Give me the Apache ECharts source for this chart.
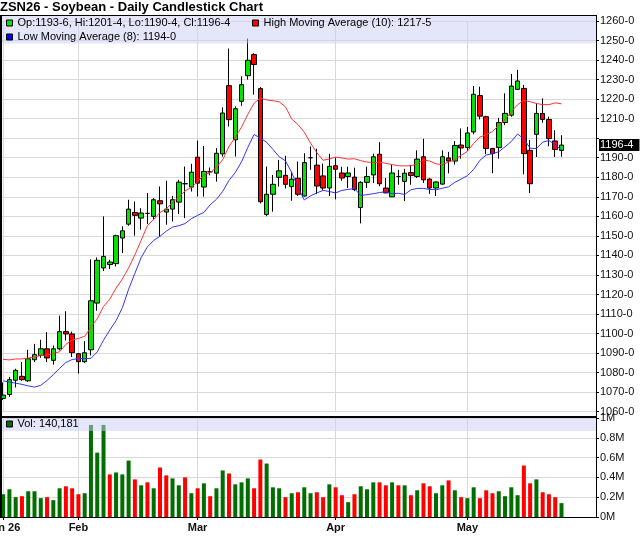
<!DOCTYPE html>
<html>
<head>
<meta charset="utf-8">
<title>ZSN26 - Soybean - Daily Candlestick Chart</title>
<script src="https://cdn.jsdelivr.net/npm/echarts@6.0.0/dist/echarts.min.js"></script>
<style>
  html, body { margin: 0; padding: 0; background: #fff; }
  #chart { width: 640px; height: 536px; }
</style>
</head>
<body>
<div id="chart"></div>
<script>
// trading days Jan 14 .. May 22, 2026
const dates = [
  'Jan 14','Jan 15','Jan 16','Jan 20','Jan 21','Jan 22','Jan 23','Jan 26','Jan 27','Jan 28','Jan 29','Jan 30',
  'Feb 2','Feb 3','Feb 4','Feb 5','Feb 6','Feb 9','Feb 10','Feb 11','Feb 12','Feb 13','Feb 17','Feb 18','Feb 19',
  'Feb 20','Feb 23','Feb 24','Feb 25','Feb 26','Feb 27',
  'Mar 2','Mar 3','Mar 4','Mar 5','Mar 6','Mar 9','Mar 10','Mar 11','Mar 12','Mar 13','Mar 16','Mar 17','Mar 18',
  'Mar 19','Mar 20','Mar 23','Mar 24','Mar 25','Mar 26','Mar 27','Mar 30','Mar 31',
  'Apr 1','Apr 2','Apr 6','Apr 7','Apr 8','Apr 9','Apr 10','Apr 13','Apr 14','Apr 15','Apr 16','Apr 17','Apr 20',
  'Apr 21','Apr 22','Apr 23','Apr 24','Apr 27','Apr 28','Apr 29','Apr 30',
  'May 1','May 4','May 5','May 6','May 7','May 8','May 11','May 12','May 13','May 14','May 15','May 18','May 19',
  'May 20','May 21','May 22'
];
// empty slots to the right of the last bar
const padSlots = ['May 26', 'May 27', 'May 28', 'May 29', 'Jun 1'];

// month tick positions and their labels
const monthStartIdx = [0, 12, 31, 53, 74];
const monthLabels = ['Jan 26', 'Feb', 'Mar', 'Apr', 'May'];

const opens = [
  1066.8,1068.8,1076.1,1078.1,1075.8,1086.6,1088.8,1092.2,1086.3,1092.2,
  1101,1099.8,1089.7,1085.6,1091.7,1115.6,1133.6,1135.3,1135.8,1148.9,
  1156,1162,1159.1,1161.5,1160,1168,1162.2,1163.7,1167.3,1176.7,
  1175,1190.3,1175,1182.8,1182.1,1192,1226.9,1199.2,1218.9,1232,
  1242.8,1225.4,1161,1171.3,1180,1181,1175.2,1179.5,1170.4,1190,
  1186.2,1180.7,1174.5,1185.9,1182.2,1180.4,1180.1,1164.5,1177.4,1181.2,
  1191.8,1174.5,1170,1180.4,1177.9,1182.4,1180.4,1190.5,1179.1,1174.5,
  1176.5,1189.9,1188.3,1196.5,1195.2,1203.2,1221.8,1211,1194.7,1195.2,
  1208,1211.8,1225,1225.5,1193.8,1202,1212.7,1209.6,1198.6,1193.75
];
const highs = [
  1075,1077.8,1082,1085.4,1091.7,1094.7,1096.8,1100.7,1093.9,1109.2,
  1111.4,1101,1090,1096.1,1138,1139,1160,1137.8,1150.6,1154.9,
  1168.5,1167.6,1164.2,1171.9,1169.3,1175.3,1178.2,1170.5,1178.7,1185.5,
  1186.9,1198.8,1196,1185,1194.9,1215.8,1245.9,1216.3,1231.7,1251,
  1243.5,1226.2,1185.5,1181.2,1188.9,1191,1182.9,1188,1192.3,1195.8,
  1194.6,1187,1192,1190,1185.4,1185.4,1184.9,1177.9,1185.4,1192.1,
  1198,1179.6,1186.3,1183.8,1184.3,1186.3,1193.8,1199.7,1179.5,1177.9,
  1193.8,1193,1198.5,1205,1205.8,1226.7,1226.4,1211.5,1195,1210.4,
  1223,1232.9,1235,1227.3,1199,1217.8,1220.4,1211,1204.1,1201.5
];
const lows = [
  1066,1067.6,1072.4,1075.8,1075.3,1085.4,1087.6,1085.4,1084.1,1091.4,
  1096.4,1088,1079.5,1085,1088.8,1111.7,1132,1133,1134.4,1141.2,
  1155.2,1150.1,1153.2,1156,1158.3,1149.7,1155.7,1157.4,1161.2,1159.1,
  1172.7,1170.2,1170.1,1181,1177.8,1190.6,1206,1190.6,1216.6,1230,
  1222.3,1166.6,1160.1,1162.4,1175.2,1174.3,1168,1170.4,1170.1,1183.8,
  1171.4,1173.3,1170.4,1168.7,1178.2,1174.5,1172.9,1156.4,1174.5,1177.1,
  1175.4,1172,1169.9,1176.2,1167.8,1176.2,1179.6,1177.1,1171.5,1170.4,
  1176.2,1182,1186.5,1189.5,1193.5,1202,1209.6,1191.8,1182.1,1189.5,
  1206.7,1211,1224.7,1181.5,1171.9,1190.4,1207.9,1195.9,1190.4,1190.5
];
const closes = [
  1068.5,1076.4,1081.2,1076.4,1087.1,1089.2,1092.2,1087.5,1092.2,1101,
  1099.8,1090.2,1085.6,1090.2,1116.8,1137.5,1139.5,1136.6,1150.1,1152.6,
  1163.7,1160.5,1161.7,1161.5,1168.5,1166.4,1163.7,1168.5,1177.5,1176.7,
  1182.6,1177,1183,1182.8,1192.3,1212.9,1209.5,1215.1,1227.4,1239.9,
  1237.7,1167.5,1171.3,1176.4,1183.3,1176.4,1179,1171.3,1187.5,1190,
  1175.5,1174.5,1185.6,1184.1,1179.6,1182.2,1173.7,1177.4,1180.4,1190.5,
  1176.7,1172,1182.2,1180.4,1182.1,1180.9,1189.3,1178.7,1174.5,1177.6,
  1190.5,1188.3,1196.3,1195,1202.7,1222.5,1211.3,1194.7,1192.1,1208,
  1212.7,1226.7,1229.3,1192.1,1176.7,1212.7,1209.6,1199.8,1194.2,1196.5
];

// moving averages as drawn on the chart
const highMA10 = [
  1086.8,1086.5,1087,1087,1087.5,1088,1088.8,1089,1089.8,1090.7,
  1094.4,1096.7,1097.5,1098.6,1103.2,1107.6,1113.9,1117.6,1123.3,1127.9,
  1133.6,1140.3,1147.7,1155.3,1158.4,1162,1163.8,1167.1,1169.9,1173,
  1174.8,1177.9,1181.1,1182.4,1185,1189,1195.8,1200.4,1205.7,1212.2,
  1217.9,1220.6,1219.6,1219.2,1218.6,1216.1,1209.8,1207,1203.1,1197.5,
  1192.6,1188.7,1189.4,1190.3,1189.9,1189.3,1189.5,1188.5,1187.8,1187.5,
  1187.8,1187.1,1186.5,1185.9,1185.8,1185.9,1186.8,1188.9,1188.3,1186.9,
  1186.5,1187.8,1189.1,1191.2,1193.3,1197.4,1200.6,1201.8,1203.4,1206.6,
  1209.5,1213.5,1217.2,1219.4,1218.7,1217.8,1217.2,1217.2,1218.1,1217.6
];
const lowMA8 = [
  1075.8,1075.2,1074.6,1074,1073.2,1072.6,1073.5,1076,1079,1082.2,
  1085.2,1086.7,1087.2,1087.2,1087.3,1090.6,1096.6,1101.8,1106.6,1113.2,
  1122.7,1130.8,1138.9,1144.4,1147.7,1149.8,1152.4,1154.5,1155.2,1156.3,
  1158.8,1160.5,1162,1165.9,1168.7,1172.8,1178.4,1182.4,1187.9,1195.3,
  1201.9,1200.1,1197.9,1194.3,1190.5,1188.4,1182.4,1174.9,1168.4,1170.5,
  1172,1173.3,1172.7,1172,1173.3,1173.8,1174.2,1170.7,1171.1,1171.6,
  1172.2,1172.6,1171.6,1171.8,1171.2,1173.6,1174.3,1174.3,1173.8,1173.6,
  1174.4,1175.1,1177.4,1179.1,1180.8,1184,1188.7,1191.4,1192.1,1193.1,
  1195.6,1198.3,1202.2,1199.6,1194.9,1194.7,1198,1198.8,1196.7,1194
];

const volumes = [
  230000,280000,200000,210000,260000,260000,190000,200000,170000,290000,
  310000,290000,230000,240000,930000,650000,930000,430000,450000,430000,
  570000,380000,320000,350000,290000,500000,420000,390000,320000,400000,
  240000,290000,340000,210000,290000,470000,440000,330000,350000,390000,
  290000,580000,540000,300000,290000,200000,240000,250000,300000,240000,
  250000,200000,330000,300000,220000,150000,230000,310000,280000,350000,
  350000,320000,350000,320000,320000,220000,270000,340000,310000,240000,
  320000,370000,270000,200000,190000,300000,190000,270000,240000,260000,
  210000,300000,220000,520000,340000,380000,250000,230000,200000,140181
];

const candleName = 'Op:1193-6, Hi:1201-4, Lo:1190-4, Cl:1196-4';
const highName = 'High Moving Average (10): 1217-5';
const lowName = 'Low Moving Average (8): 1194-0';
const volName = 'Vol: 140,181';
const lastPrice = 1196.5;
const lastPriceLabel = '1196-4';

const FONT = '"Liberation Sans", Arial, sans-serif';
const upFill = '#00e400';
const downFill = '#ff0000';
const volUp = '#006e00';
const volDown = '#ff0000';
const bandFill = 'rgba(205,205,245,0.5)';
const gridColor = '#d9d9d9';

const slots = dates.concat(padSlots);
const candles = dates.map((d, i) => [opens[i], closes[i], lows[i], highs[i]]);
const onMonth = (i) => monthStartIdx.indexOf(i) !== -1;

const chart = echarts.init(document.getElementById('chart'), null, { renderer: 'canvas' });

function legendItem(name, fill) {
    return { name: name, icon: 'rect', itemStyle: { color: fill, borderColor: '#000', borderWidth: 1 } };
}
const legendBase = {
    padding: 0,
    itemWidth: 6,
    itemHeight: 6,
    selectedMode: false,
    textStyle: { fontSize: 11, color: '#000', fontFamily: FONT }
};

const option = {
    animation: false,
    textStyle: { fontFamily: FONT },
    title: {
        text: 'ZSN26 - Soybean - Daily Candlestick Chart',
        left: 0,
        top: 1,
        padding: 0,
        textStyle: { fontSize: 13, fontWeight: 'bold', color: '#000', fontFamily: FONT }
    },
    legend: [
        Object.assign({ left: 6, top: 17.5, data: [legendItem(candleName, upFill)] }, legendBase),
        Object.assign({ left: 252, top: 17.5, data: [legendItem(highName, '#ff0000')] }, legendBase),
        Object.assign({ left: 6, top: 31.5, data: [legendItem(lowName, '#0000ff')] }, legendBase),
        Object.assign({ left: 6, top: 418.5, data: [legendItem(volName, volUp)] }, legendBase)
    ],
    grid: [
        { left: 0, right: 44, top: 21, bottom: 124.3, containLabel: false, outerBoundsMode: 'none' },
        { left: 0, right: 44, top: 418, bottom: 19, containLabel: false, outerBoundsMode: 'none' }
    ],
    xAxis: [
        {
            type: 'category',
            gridIndex: 0,
            data: slots,
            boundaryGap: true,
            axisLine: { show: false },
            axisTick: { show: false },
            axisLabel: { show: false },
            splitLine: { show: true, interval: onMonth, alignWithLabel: true, lineStyle: { color: gridColor } }
        },
        {
            type: 'category',
            gridIndex: 1,
            data: slots,
            boundaryGap: true,
            axisLine: { show: true, lineStyle: { color: '#000', width: 1 } },
            axisTick: { show: true, interval: onMonth, alignWithLabel: true, length: 3, lineStyle: { color: '#000' } },
            axisLabel: {
                show: true,
                interval: onMonth,
                formatter: (v, i) => monthLabels[monthStartIdx.indexOf(i)] || '',
                fontSize: 11,
                fontWeight: 'bold',
                color: '#111',
                align: 'center',
                margin: 5
            },
            splitLine: { show: true, interval: onMonth, alignWithLabel: true, lineStyle: { color: gridColor } }
        }
    ],
    yAxis: [
        {
            type: 'value',
            gridIndex: 0,
            position: 'right',
            min: 1060,
            max: 1260,
            interval: 10,
            axisLine: { show: true, lineStyle: { color: '#000' } },
            axisTick: { show: true, length: 3, lineStyle: { color: '#000' } },
            axisLabel: {
                // the last-price tag hides the tick label it sits on
                formatter: (v) => (Math.abs(v - lastPrice) < 5 ? '' : v + '-0'),
                fontSize: 11,
                color: '#111',
                margin: 4
            },
            splitLine: { show: true, lineStyle: { color: gridColor } }
        },
        {
            type: 'value',
            gridIndex: 1,
            position: 'right',
            min: 0,
            max: 1000000,
            interval: 200000,
            axisLine: { show: true, lineStyle: { color: '#000' } },
            axisTick: { show: true, length: 3, lineStyle: { color: '#000' } },
            axisLabel: { formatter: (v) => (v / 1e6) + 'M', fontSize: 11, color: '#111', margin: 4 },
            splitLine: { show: true, lineStyle: { color: gridColor } }
        }
    ],
    series: [
        {
            name: candleName,
            type: 'candlestick',
            xAxisIndex: 0,
            yAxisIndex: 0,
            data: candles,
            barWidth: 5,
            itemStyle: {
                color: upFill,
                color0: downFill,
                borderColor: '#000',
                borderColor0: '#000',
                borderColorDoji: '#000',
                borderWidth: 1
            },
            markLine: {
                silent: true,
                symbol: ['none', 'none'],
                lineStyle: { color: 'rgba(0,0,0,0)', width: 0, type: 'solid' },
                label: {
                    show: true,
                    position: 'end',
                    distance: 3,
                    formatter: lastPriceLabel,
                    backgroundColor: '#000',
                    color: '#fff',
                    fontSize: 11,
                    lineHeight: 11,
                    padding: [1, 6, 0, 1]
                },
                data: [{ yAxis: lastPrice }]
            }
        },
        {
            name: highName,
            type: 'line',
            xAxisIndex: 0,
            yAxisIndex: 0,
            data: highMA10,
            showSymbol: false,
            symbol: 'none',
            color: '#ff3333',
            lineStyle: { width: 1, color: '#ff3333' }
        },
        {
            name: lowName,
            type: 'line',
            xAxisIndex: 0,
            yAxisIndex: 0,
            data: lowMA8,
            showSymbol: false,
            symbol: 'none',
            color: '#3333ff',
            lineStyle: { width: 1, color: '#3333ff' }
        },
        {
            name: volName,
            type: 'bar',
            xAxisIndex: 1,
            yAxisIndex: 1,
            data: volumes,
            barWidth: 4,
            itemStyle: {
                color: (p) => {
                    const i = p.dataIndex;
                    return (i === 0 || closes[i] >= closes[i - 1]) ? volUp : volDown;
                }
            }
        }
    ],
    graphic: [
        // legend bands
        { type: 'rect', z: 3, silent: true, shape: { x: 2, y: 16, width: 594, height: 27.5 }, style: { fill: bandFill } },
        { type: 'rect', z: 3, silent: true, shape: { x: 2, y: 418, width: 594, height: 13 }, style: { fill: bandFill } },
        // frame
        { type: 'line', z: 5, silent: true, shape: { x1: 1, y1: 15, x2: 1, y2: 518 }, style: { stroke: '#000', lineWidth: 2 } },
        { type: 'line', z: 5, silent: true, shape: { x1: 0, y1: 15.5, x2: 596, y2: 15.5 }, style: { stroke: '#000', lineWidth: 1 } },
        { type: 'line', z: 5, silent: true, shape: { x1: 0, y1: 417, x2: 597, y2: 417 }, style: { stroke: '#000', lineWidth: 2 } },
        { type: 'line', z: 5, silent: true, shape: { x1: 596.5, y1: 15, x2: 596.5, y2: 517 }, style: { stroke: '#000', lineWidth: 1 } }
    ]
};

chart.setOption(option);
</script>
</body>
</html>
